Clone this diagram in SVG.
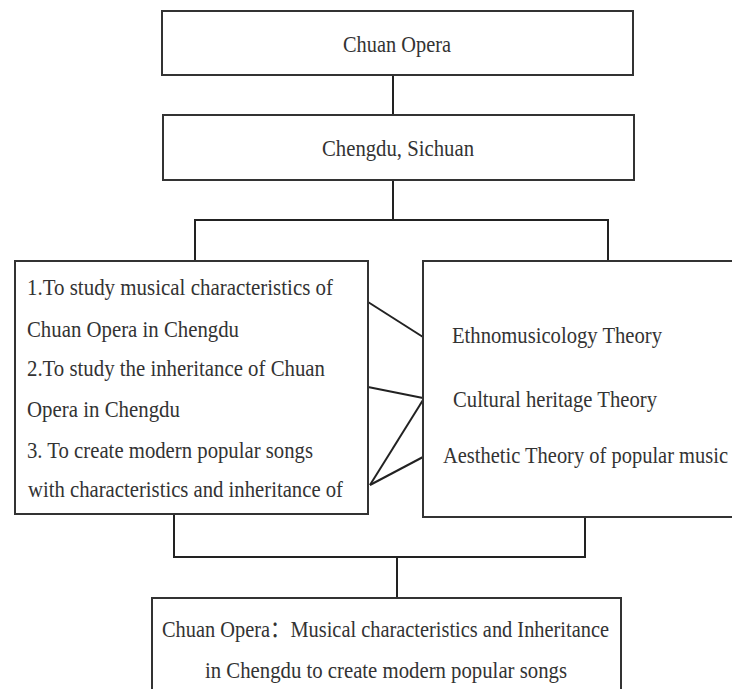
<svg xmlns="http://www.w3.org/2000/svg" width="732" height="689" viewBox="0 0 732 689">
<style>
.box{fill:#fff;stroke:#333;stroke-width:2}
.ln{fill:none;stroke:#222;stroke-width:2}
text{font-family:"Liberation Serif","Noto Sans CJK SC",serif;font-size:23px;fill:#333}
</style>
<rect width="732" height="689" fill="#fff"/>
<g id="connectors">
<line class="ln" x1="393" y1="75" x2="393" y2="115"/>
<polyline class="ln" points="195,261 195,220 608,220 608,261"/>
<line class="ln" x1="393" y1="180" x2="393" y2="220"/>
<line class="ln" x1="368" y1="302" x2="423" y2="337"/>
<line class="ln" x1="368" y1="387" x2="423" y2="398"/>
<line class="ln" x1="423" y1="400" x2="370" y2="485"/>
<line class="ln" x1="423" y1="457" x2="370" y2="485"/>
<polyline class="ln" points="174,514 174,557 585,557 585,517"/>
<line class="ln" x1="397" y1="557" x2="397" y2="598"/>
</g>
<g id="chuan-opera">
<rect class="box" x="162" y="11" width="471" height="64"/>
<text x="343" y="52" textLength="108" lengthAdjust="spacingAndGlyphs">Chuan Opera</text>
</g>
<g id="chengdu">
<rect class="box" x="163" y="115" width="471" height="65"/>
<text x="322" y="156" textLength="152" lengthAdjust="spacingAndGlyphs">Chengdu, Sichuan</text>
</g>
<g id="objectives">
<rect class="box" x="15" y="261" width="353" height="253"/>
<text x="27" y="295" textLength="306" lengthAdjust="spacingAndGlyphs">1.To study musical characteristics of</text>
<text x="27" y="337" textLength="212" lengthAdjust="spacingAndGlyphs">Chuan Opera in Chengdu</text>
<text x="27" y="376" textLength="298" lengthAdjust="spacingAndGlyphs">2.To study the inheritance of Chuan</text>
<text x="27" y="417" textLength="153" lengthAdjust="spacingAndGlyphs">Opera in Chengdu</text>
<text x="27" y="458" textLength="286" lengthAdjust="spacingAndGlyphs">3. To create modern popular songs</text>
<text x="28" y="497" textLength="315" lengthAdjust="spacingAndGlyphs">with characteristics and inheritance of</text>
</g>
<g id="theories">
<rect class="box" x="423" y="261" width="320" height="256"/>
<text x="452" y="343" textLength="210" lengthAdjust="spacingAndGlyphs">Ethnomusicology Theory</text>
<text x="453" y="407" textLength="204" lengthAdjust="spacingAndGlyphs">Cultural heritage Theory</text>
<text x="443" y="463" textLength="285" lengthAdjust="spacingAndGlyphs">Aesthetic Theory of popular music</text>
</g>
<g id="result">
<rect class="box" x="152" y="598" width="469" height="110"/>
<text x="162" y="637" textLength="447" lengthAdjust="spacingAndGlyphs">Chuan Opera：Musical characteristics and Inheritance</text>
<text x="205" y="678" textLength="362" lengthAdjust="spacingAndGlyphs">in Chengdu to create modern popular songs</text>
</g>
</svg>
